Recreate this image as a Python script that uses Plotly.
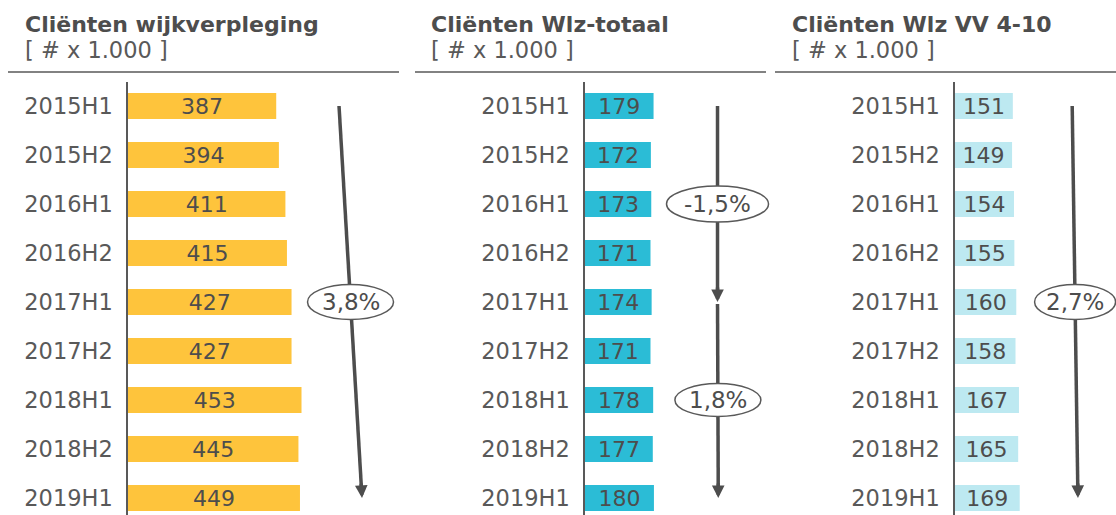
import plotly.graph_objects as go

# ---------------- data ----------------
categories = ["2015H1", "2015H2", "2016H1", "2016H2", "2017H1",
              "2017H2", "2018H1", "2018H2", "2019H1"]
wijkverpleging = [387, 394, 411, 415, 427, 427, 453, 445, 449]
wlz_totaal = [179, 172, 173, 171, 174, 171, 178, 177, 180]
wlz_vv = [151, 149, 154, 155, 160, 158, 167, 165, 169]

titles = ["Cliënten wijkverpleging", "Cliënten Wlz-totaal", "Cliënten Wlz VV 4-10"]
unit_label = "[ # x 1.000 ]"

# growth arrows: (from category, to category, label)
growth_panel1 = [("2015H1", "2019H1", "3,8%")]
growth_panel2 = [("2015H1", "2017H1", "-1,5%"), ("2017H1", "2019H1", "1,8%")]
growth_panel3 = [("2015H1", "2019H1", "2,7%")]

# ---------------- styling / layout ----------------
W, H = 1116, 515
FONT = "Verdana, DejaVu Sans, sans-serif"
TXT = "#4d4d4d"
GREY = "#595959"
colors = ["#FEC43C", "#2BBCD6", "#BDE9F1"]

PX_PER_UNIT = 0.383
axis_px = [128, 585, 955]
panel_right = [400, 770, 1116]
ROW0, ROW_STEP, PLOT_TOP = 106, 49, 82
header_lines = [(8, 399), (415, 766), (775, 1116)]
title_x = [23, 429, 790]

# arrow placement per panel (data units on the value axis) and ellipse sizes (px)
arrow_x = [[(551, 611)], [(346, 346), (346, 348)], [(306, 321)]]
ellipse_size = [[(86, 35)], [(102, 36), (86, 33)], [(81, 35)]]

series = [wijkverpleging, wlz_totaal, wlz_vv]
growth = [growth_panel1, growth_panel2, growth_panel3]

fig = go.Figure()
shapes = []
annotations = []

y_range = [(H - ROW0) / ROW_STEP, (PLOT_TOP - ROW0) / ROW_STEP]
y_dom = [0, (H - PLOT_TOP) / H]

for i in range(3):
    n = "" if i == 0 else str(i + 1)
    xa, ya = "x" + n, "y" + n
    fig.add_trace(go.Bar(
        x=series[i], y=categories, orientation="h",
        marker=dict(color=colors[i], line=dict(width=0)),
        text=series[i], texttemplate="%{x}",
        textposition="inside", insidetextanchor="middle",
        constraintext="none",
        textfont=dict(family=FONT, size=22, color=TXT),
        xaxis=xa, yaxis=ya, showlegend=False, hoverinfo="skip",
    ))
    x0p, x1p = axis_px[i], panel_right[i]
    fig.update_layout(**{
        ("xaxis" + n): dict(domain=[x0p / W, x1p / W],
                            range=[0, (x1p - x0p) / PX_PER_UNIT],
                            visible=False, anchor=ya, fixedrange=True),
        ("yaxis" + n): dict(domain=y_dom, range=y_range, anchor=xa,
                            type="category", categoryorder="array",
                            categoryarray=categories,
                            showline=True, linecolor=GREY, linewidth=1.5,
                            showgrid=False, zeroline=False, ticks="",
                            ticklabelstandoff=9,
                            tickfont=dict(family=FONT, size=22.5, color=GREY),
                            fixedrange=True),
    })

    # header line
    yl = (H - 72) / H
    shapes.append(dict(type="line", xref="paper", yref="paper",
                       x0=header_lines[i][0] / W, x1=header_lines[i][1] / W,
                       y0=yl, y1=yl, line=dict(color=GREY, width=1.4)))
    # titles
    annotations.append(dict(text="<b>" + titles[i] + "</b>", xref="paper", yref="paper",
                            x=title_x[i] / W, y=(H - 24) / H, xanchor="left",
                            yanchor="middle", showarrow=False,
                            font=dict(family=FONT, size=22, color=TXT)))
    annotations.append(dict(text=unit_label,
                            xref="paper", yref="paper",
                            x=title_x[i] / W, y=(H - 50) / H, xanchor="left",
                            yanchor="middle", showarrow=False,
                            font=dict(family=FONT, size=22.5, color=GREY)))

    # growth arrows + ellipses
    for k, (c_from, c_to, label) in enumerate(growth[i]):
        i0, i1 = categories.index(c_from), categories.index(c_to)
        xf, xt = arrow_x[i][k]
        i0s = i0 + 0.04 if k > 0 else i0
        # shaft (shape, below ellipse)
        frac_end = 1 - 0.2 / (i1 - i0)
        shapes.append(dict(type="line", xref=xa, yref=ya, layer="above",
                           x0=xf, y0=i0s, x1=xf + (xt - xf) * frac_end, y1=i1 - 0.2,
                           line=dict(color=TXT, width=3.5)))
        # head
        dxp = (xt - xf) * PX_PER_UNIT
        dyp = (i1 - i0) * ROW_STEP
        L = (dxp ** 2 + dyp ** 2) ** 0.5
        annotations.append(dict(text="", x=xt, y=i1, xref=xa, yref=ya,
                                axref="pixel", ayref="pixel",
                                ax=-dxp / L * 16, ay=-dyp / L * 16,
                                showarrow=True, arrowhead=2, arrowsize=0.72,
                                arrowwidth=3.5, arrowcolor=TXT, standoff=0))
        # ellipse with label
        mid = (i0 + i1) / 2
        xc = xf + (xt - xf) * 0.5
        ew, eh = ellipse_size[i][k]
        shapes.append(dict(type="circle", xref=xa, yref=ya, layer="above",
                           xsizemode="pixel", ysizemode="pixel",
                           xanchor=xc, yanchor=mid,
                           x0=-ew / 2, x1=ew / 2, y0=-eh / 2, y1=eh / 2,
                           fillcolor="white", line=dict(color=GREY, width=1.5)))
        annotations.append(dict(text=label, x=xc, y=mid, xref=xa, yref=ya,
                                showarrow=False,
                                font=dict(family=FONT, size=23, color=TXT)))

fig.update_layout(
    width=W, height=H, margin=dict(l=0, r=0, t=0, b=0),
    paper_bgcolor="white", plot_bgcolor="white",
    bargap=0.47, shapes=shapes, annotations=annotations,
    font=dict(family=FONT, color=GREY),
)

fig.write_html("out.html", post_script="document.body.style.margin='0';",
               config={"displayModeBar": False})
